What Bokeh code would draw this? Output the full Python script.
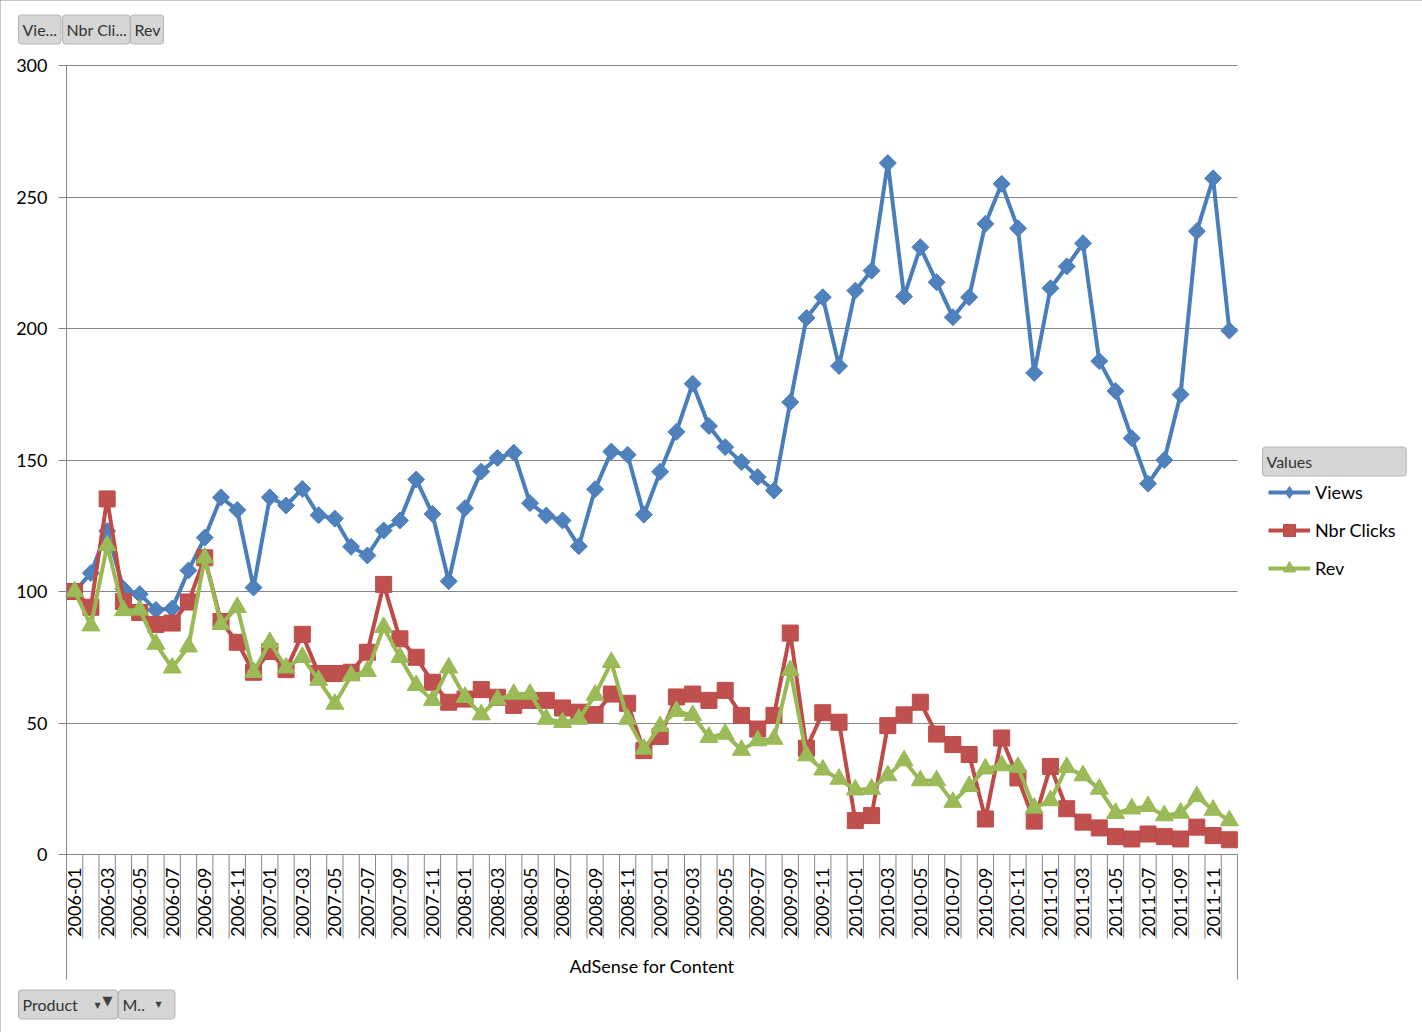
import numpy as np
from bokeh.plotting import figure
from bokeh.models import Range1d, FixedTicker, Legend, LegendItem, Label, ColumnDataSource
from bokeh.core.properties import value
from bokeh.embed import file_html
from bokeh.resources import INLINE

# ---------------- data ----------------
months = [f"{y}-{m:02d}" for y in range(2006, 2012) for m in range(1, 13)]

views = [100, 107, 123, 101, 99, 93, 93.5, 108, 120.5, 135.8, 131, 101.5,
         135.8, 132.7, 139, 129, 127.7, 117, 113.7, 123.2, 127, 142.6, 129.5, 103.9,
         131.7, 145.6, 150.8, 152.8, 133.6, 128.9, 127, 117.2, 138.9, 153.2, 152, 129.2,
         145.5, 160.7, 179, 162.9, 154.9, 149.2, 143.5, 138.4, 172, 204, 211.9, 185.7,
         214.4, 222, 262.9, 212.2, 230.9, 217.6, 204.3, 211.9, 239.8, 255, 238.1, 183.1,
         215.3, 223.6, 232.4, 187.6, 176.2, 158.3, 141, 150, 174.9, 237, 257.1, 199.2]

clicks = [100, 94, 135.2, 96.2, 92, 87.5, 88, 96, 112.8, 88.6, 80.7, 69.3,
          77.2, 70.3, 83.7, 68.8, 68.8, 69.3, 76.9, 102.7, 82, 75, 65.5, 57.9,
          59.1, 62.7, 59.8, 56.7, 58.6, 58.6, 55.7, 54.1, 53.2, 61, 57.5, 39.5,
          44.9, 59.9, 61, 58.6, 62.4, 52.9, 47.7, 52.9, 84.2, 40.4, 53.9, 50.3,
          12.9, 14.8, 49, 53.1, 57.9, 45.8, 41.8, 38, 13.5, 44.3, 29.1, 12.7,
          33.5, 17.4, 12.3, 10.1, 6.8, 5.9, 7.8, 6.8, 5.9, 10.4, 7.2, 5.6]

rev = [100, 87, 117.5, 92.8, 93, 80, 71, 79, 112.8, 87.5, 94, 69.3,
       80.7, 71, 75, 66.3, 57.2, 68, 69.7, 86.4, 75, 64.3, 58.6, 71,
       59.8, 53.2, 58.9, 61, 61, 51.5, 50.3, 51.5, 60.6, 73.1, 51.5, 40.1,
       48.7, 54.5, 52.9, 44.6, 45.8, 39.7, 43.3, 43.9, 70, 37.6, 32.2, 28.7,
       24.6, 24.9, 30, 35.7, 28.1, 28.1, 19.9, 25.9, 32.6, 33.8, 33.2, 17.7,
       20.5, 33.2, 30, 24.9, 15.7, 17.4, 18.3, 14.8, 15.8, 22.1, 16.9, 12.9]

series_names = ["Views", "Nbr Clicks", "Rev"]
y_ticks = [0, 50, 100, 150, 200, 250, 300]
category_title = "AdSense for Content"
legend_title = "Values"
value_buttons = ["Vie...", "Nbr Cli...", "Rev"]
filter_buttons = ["Product", "M.."]

# ---------------- layout (frame covers the whole canvas) ----------------
W, H = 1422, 1032
n = len(months)
AX_L, AX_R = 66, 1237          # px of the category axis ends
ZERO_Y, TOP_Y = 854, 65        # px of values 0 and 300
PX_PER_CAT = (AX_R - AX_L) / n
PX_PER_UNIT = (ZERO_Y - TOP_Y) / 300


def dx(px):
    return (px - AX_L) / PX_PER_CAT


def dy(py):
    return (ZERO_Y - py) / PX_PER_UNIT


FONT = "Lato"
GRID = "#868686"
BLUE_L, BLUE_F = "#4a7ebb", "#4f81bd"
RED_L, RED_F = "#be4b48", "#c0504d"
GREEN_L, GREEN_F = "#98b954", "#9bbb59"

p = figure(width=W, height=H, x_range=Range1d(dx(0), dx(W)), y_range=Range1d(dy(H), dy(0)),
           output_backend="svg", toolbar_location=None, x_axis_location=None,
           min_border_left=0, min_border_right=0, min_border_top=0, min_border_bottom=0)
p.outline_line_color = None
p.background_fill_color = "white"
p.border_fill_color = "white"
p.styles = {"outline": "2px solid #8c8c8c", "outline-offset": "-2px"}
p.xgrid.visible = False

ax = p.yaxis[0]
ax.fixed_location = 0
ax.ticker = FixedTicker(ticks=y_ticks)
ax.bounds = (dy(979), 300)
ax.axis_line_color = GRID
ax.major_tick_line_color = GRID
ax.minor_tick_line_color = None
ax.major_tick_in = 0
ax.major_tick_out = 8
ax.major_label_standoff = 11
ax.major_label_text_font = FONT
ax.major_label_text_font_size = "18px"
ax.major_label_text_color = "#000000"
p.ygrid.grid_line_color = GRID
p.ygrid.grid_line_width = 1
p.ygrid.cross_bounds = (0, n)

# category axis (ticks between categories, labels, group line and title)
xs = [i + 0.5 for i in range(n)]
bounds = list(range(1, n))
tick_len = dy(938)
p.segment(x0=bounds, y0=[0] * len(bounds), x1=bounds, y1=[tick_len] * len(bounds),
          line_color=GRID, line_width=1)
p.segment(x0=[n], y0=[0], x1=[n], y1=[dy(979)], line_color=GRID, line_width=1)
lab_x = [xs[i] for i in range(0, n, 2)]
lab_t = [months[i] for i in range(0, n, 2)]
p.text(x=lab_x, y=[dy(867)] * len(lab_x), text=lab_t, angle=np.pi / 2,
       text_align="right", text_baseline="middle", text_font=value(FONT),
       text_font_size="18px", text_color="#000000")
p.text(x=[n / 2], y=[dy(965)], text=[category_title], text_align="center",
       text_baseline="middle", text_font=value(FONT), text_font_size="18px",
       text_color="#000000")

src = ColumnDataSource(dict(x=xs, views=views, clicks=clicks, rev=rev))

l1 = p.line("x", "views", source=src, line_color=BLUE_L, line_width=4)
m1 = p.scatter("x", "views", source=src, marker="square", angle=np.pi / 4, size=12,
               fill_color=BLUE_F, line_color=BLUE_L, line_width=1)
l2 = p.line("x", "clicks", source=src, line_color=RED_L, line_width=4)
m2 = p.scatter("x", "clicks", source=src, marker="square", size=16,
               fill_color=RED_F, line_color=RED_L, line_width=1)
l3 = p.line("x", "rev", source=src, line_color=GREEN_L, line_width=4)
m3 = p.scatter("x", "rev", source=src, marker="triangle", size=18,
               fill_color=GREEN_F, line_color=GREEN_L, line_width=1)

# hidden diamond renderer, used only for the legend key of Views
k1 = p.scatter("x", "views", source=src, marker="diamond", size=14,
               fill_color=BLUE_F, line_color=BLUE_L, line_width=1, visible=False)

legend = Legend(items=[LegendItem(label=series_names[0], renderers=[l1, k1]),
                       LegendItem(label=series_names[1], renderers=[l2, m2]),
                       LegendItem(label=series_names[2], renderers=[l3, m3])],
                location=(1268, H - 477 - 106), orientation="vertical")
legend.padding = 0
legend.margin = 0
legend.spacing = 8
legend.glyph_width = 42
legend.glyph_height = 30
legend.label_height = 30
legend.label_standoff = 5
legend.label_text_font = FONT
legend.label_text_font_size = "18px"
legend.label_text_color = "#000000"
legend.label_text_baseline = "middle"
legend.border_line_color = None
legend.background_fill_alpha = 0
legend.inactive_fill_alpha = 0
p.add_layout(legend)

BTN_FILL = "#d6d6d6"
BTN_LINE = "#b3b3b3"
BTN_TEXT = "#333333"


def button(px, py, text, pad, size="16px"):
    p.add_layout(Label(x=dx(px), y=dy(py), x_units="data", y_units="data", text=text,
                       text_font=FONT, text_font_size=size, text_color=BTN_TEXT,
                       text_align="left", text_baseline="middle",
                       background_fill_color=BTN_FILL, border_line_color=BTN_LINE,
                       border_radius=3, padding=pad))


button(18, 29, value_buttons[0], dict(left=4, right=4, top=5, bottom=5))
button(62, 29, value_buttons[1], dict(left=4, right=3, top=5, bottom=5))
button(130, 29, value_buttons[2], dict(left=4, right=3, top=5, bottom=5))
button(1262, 461, legend_title, dict(left=4, right=94, top=5, bottom=5))
button(18, 1004, filter_buttons[0], dict(left=4, right=40, top=5, bottom=5))
button(118, 1004, filter_buttons[1], dict(left=4, right=30, top=5, bottom=5))


def arrow(px, py, text, size):
    p.add_layout(Label(x=dx(px), y=dy(py), x_units="data", y_units="data", text=text,
                       text_font="DejaVu Sans", text_font_size=size, text_color="#404040",
                       text_align="center", text_baseline="middle"))


arrow(97, 1005, "▼", "8px")
arrow(107, 1000, "▼", "13px")
arrow(158, 1004, "▼", "8px")

open("out.html", "w").write(file_html(p, INLINE))
